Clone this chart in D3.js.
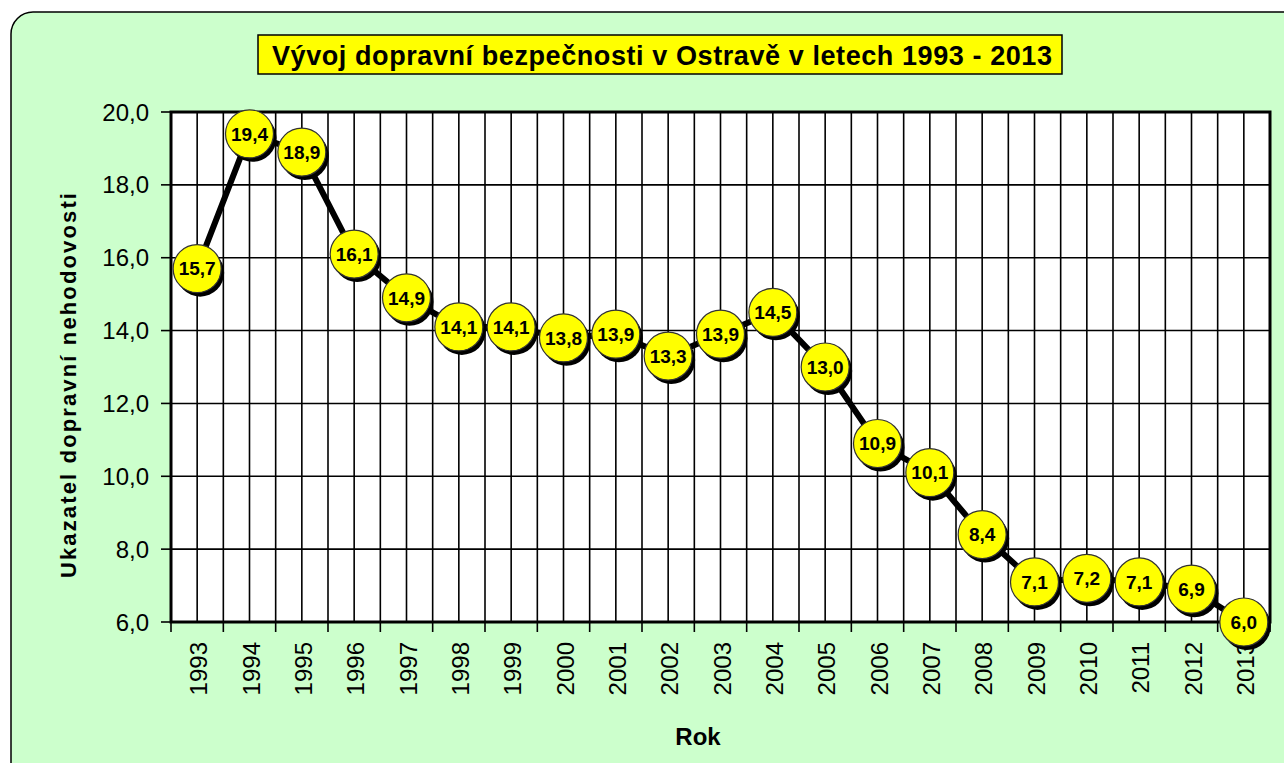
<!DOCTYPE html>
<html>
<head>
<meta charset="utf-8">
<script src="https://cdn.jsdelivr.net/npm/d3@7"></script>
<style>
  body { margin: 0; background: #fff; }
  text { font-family: Arial, "Liberation Sans", sans-serif; }
</style>
</head>
<body>
<svg id="chart" width="1284" height="763"></svg>
<script>
// data
var years = ["1993","1994","1995","1996","1997","1998","1999","2000","2001","2002","2003",
             "2004","2005","2006","2007","2008","2009","2010","2011","2012","2013"];
var values = [15.7, 19.4, 18.9, 16.1, 14.9, 14.1, 14.1, 13.8, 13.9, 13.3, 13.9,
              14.5, 13.0, 10.9, 10.1, 8.4, 7.1, 7.2, 7.1, 6.9, 6.0];
var yTicks = [6, 8, 10, 12, 14, 16, 18, 20];

var svg = d3.select("#chart");
var fmt = function(v) { return d3.format(".1f")(v).replace(".", ","); };

// outer rounded green panel
svg.append("rect")
  .attr("x", 11).attr("y", 12)
  .attr("width", 1300).attr("height", 780)
  .attr("rx", 22).attr("ry", 22)
  .attr("fill", "#ccffcc")
  .attr("stroke", "#000")
  .attr("stroke-width", 1.5);

// plot area
var pLeft = 171, pRight = 1270, pTop = 112, pBottom = 622;

var x = d3.scaleBand().domain(years).range([pLeft, pRight]);
var y = d3.scaleLinear().domain([6, 20]).range([pBottom, pTop]);

svg.append("rect")
  .attr("x", pLeft).attr("y", pTop)
  .attr("width", pRight - pLeft).attr("height", pBottom - pTop)
  .attr("fill", "#fff");

// vertical grid: category boundaries and centres
var g = svg.append("g");
years.forEach(function(d, i) {
  var x0 = x(d);
  if (i > 0) {
    g.append("line").attr("x1", x0).attr("x2", x0).attr("y1", pTop).attr("y2", pBottom)
      .attr("stroke", "#000").attr("stroke-width", 1.6);
  }
  var xc = x0 + x.bandwidth() / 2;
  g.append("line").attr("x1", xc).attr("x2", xc).attr("y1", pTop).attr("y2", pBottom)
    .attr("stroke", "#000").attr("stroke-width", 1.6);
});

// horizontal grid
yTicks.forEach(function(t) {
  g.append("line").attr("x1", pLeft).attr("x2", pRight).attr("y1", y(t)).attr("y2", y(t))
    .attr("stroke", "#000").attr("stroke-width", 1.6);
});

// plot border
svg.append("rect")
  .attr("x", pLeft).attr("y", pTop)
  .attr("width", pRight - pLeft).attr("height", pBottom - pTop)
  .attr("fill", "none")
  .attr("stroke", "#000").attr("stroke-width", 3);

// y axis ticks + labels
yTicks.forEach(function(t) {
  svg.append("line").attr("x1", pLeft - 10).attr("x2", pLeft).attr("y1", y(t)).attr("y2", y(t))
    .attr("stroke", "#000").attr("stroke-width", 1.6);
  svg.append("text")
    .attr("x", 149).attr("y", y(t))
    .attr("dy", "0.36em")
    .attr("text-anchor", "end")
    .style("font-size", "24px")
    .text(fmt(t));
});

// x axis ticks + labels
years.forEach(function(d) {
  svg.append("line").attr("x1", x(d)).attr("x2", x(d)).attr("y1", pBottom).attr("y2", pBottom + 10)
    .attr("stroke", "#000").attr("stroke-width", 1.6);
  var xc = x(d) + x.bandwidth() / 2;
  svg.append("text")
    .attr("transform", "translate(" + (xc + 10) + "," + (pBottom + 20) + ") rotate(-90)")
    .attr("text-anchor", "end")
    .style("font-size", "24px")
    .text(d);
});
svg.append("line").attr("x1", pRight).attr("x2", pRight).attr("y1", pBottom).attr("y2", pBottom + 10)
  .attr("stroke", "#000").attr("stroke-width", 1.6);

// line
var line = d3.line()
  .x(function(d, i) { return x(years[i]) + x.bandwidth() / 2; })
  .y(function(d) { return y(d); });

svg.append("path")
  .datum(values)
  .attr("d", line)
  .attr("fill", "none")
  .attr("stroke", "#000")
  .attr("stroke-width", 6);

// markers with shadow
var pts = svg.append("g");
values.forEach(function(v, i) {
  var cx = x(years[i]) + x.bandwidth() / 2, cy = y(v);
  pts.append("circle").attr("cx", cx + 3).attr("cy", cy + 4).attr("r", 24).attr("fill", "#000");
  pts.append("circle").attr("cx", cx).attr("cy", cy).attr("r", 24)
    .attr("fill", "#ffff00").attr("stroke", "#333").attr("stroke-width", 1.2);
  pts.append("text")
    .attr("x", cx).attr("y", cy)
    .attr("dy", "0.36em")
    .attr("text-anchor", "middle")
    .style("font-size", "19px").style("font-weight", "bold")
    .text(fmt(v));
});

// title
svg.append("rect")
  .attr("x", 258).attr("y", 35).attr("width", 804).attr("height", 39)
  .attr("fill", "#ffff00").attr("stroke", "#000").attr("stroke-width", 1.5);
svg.append("text")
  .attr("x", 272).attr("y", 65)
  .attr("textLength", 780).attr("lengthAdjust", "spacing")
  .style("font-size", "27px").style("font-weight", "bold")
  .text("Vývoj dopravní bezpečnosti v Ostravě v letech 1993 - 2013");

// axis titles
svg.append("text")
  .attr("transform", "translate(76,578) rotate(-90)")
  .attr("textLength", 385).attr("lengthAdjust", "spacing")
  .style("font-size", "22px").style("font-weight", "bold")
  .text("Ukazatel dopravní nehodovosti");

svg.append("text")
  .attr("x", 698).attr("y", 745)
  .attr("text-anchor", "middle")
  .style("font-size", "24px").style("font-weight", "bold")
  .text("Rok");
</script>
</body>
</html>
